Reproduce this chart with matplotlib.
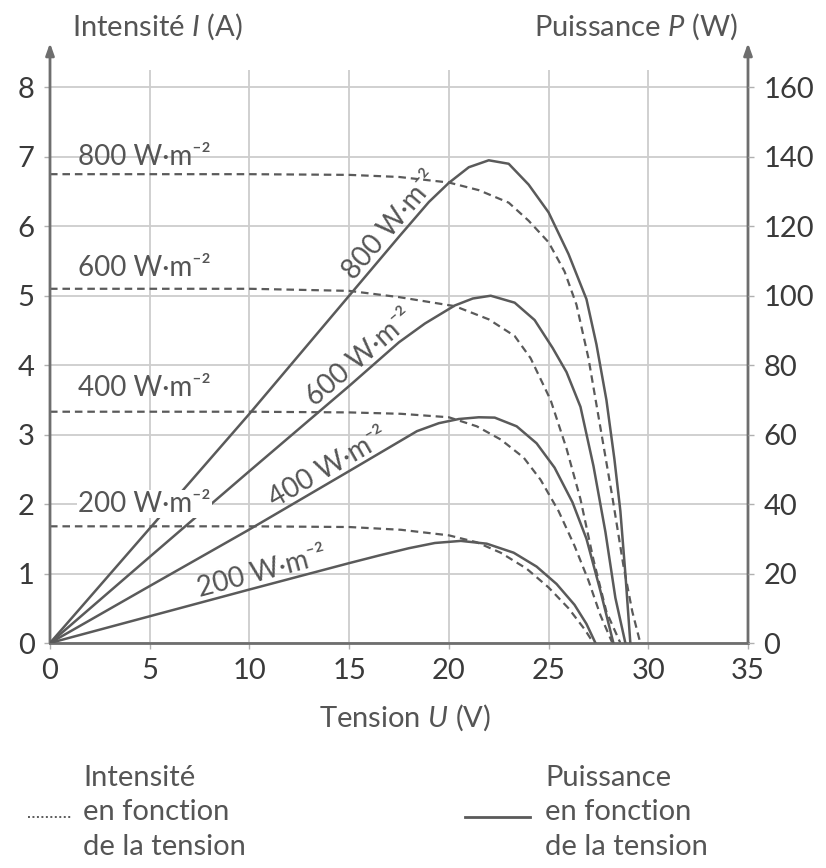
import numpy as np
import matplotlib
matplotlib.use("Agg")
import matplotlib.pyplot as plt
from matplotlib.lines import Line2D

plt.rcParams['font.family'] = ['Lato', 'DejaVu Sans']
plt.rcParams['mathtext.fontset'] = 'custom'
plt.rcParams['mathtext.rm'] = 'Lato'
plt.rcParams['mathtext.it'] = 'Lato:italic'

# éclairements (W/m2)
irradiances = [800, 600, 400, 200]

# intensité I (A) en fonction de la tension U (V) -- pointillés
U_I800 = [0, 5, 10, 15, 17.5, 20, 21.5, 23, 24, 25, 25.8, 26.4, 27, 27.6, 28.2, 28.75, 29.2, 29.6]
I800 = [6.75, 6.75, 6.75, 6.74, 6.71, 6.63, 6.52, 6.34, 6.08, 5.77, 5.35, 4.87, 4.1, 3.1, 2.1, 1.12, 0.45, 0]
U_I600 = [0, 5, 10, 15, 17.5, 20.3, 22, 23.3, 24.1, 25.1, 25.9, 26.6, 27.25, 27.9, 28.6]
I600 = [5.1, 5.1, 5.1, 5.07, 4.98, 4.85, 4.66, 4.42, 4.1, 3.5, 2.8, 2.07, 1.2, 0.45, 0]
U_I400 = [0, 5, 10, 15, 17.6, 20, 21.4, 22.6, 23.75, 24.6, 25.5, 26.3, 27.0, 27.6, 28.2]
I400 = [3.33, 3.33, 3.33, 3.32, 3.3, 3.25, 3.12, 2.93, 2.67, 2.35, 1.9, 1.4, 0.9, 0.4, 0]
U_I200 = [0, 5, 10, 15, 17.6, 20, 21.4, 22.6, 23.9, 25, 26, 26.8, 27.25]
I200 = [1.68, 1.68, 1.68, 1.67, 1.63, 1.55, 1.45, 1.3, 1.07, 0.8, 0.5, 0.2, 0]

# puissance P (W) en fonction de la tension U (V) -- traits pleins
U_P800 = [0, 5, 10, 15, 17.5, 19, 20, 21, 22, 23, 24, 25, 26, 26.9, 27.4, 27.9, 28.3, 28.6, 28.85, 29.1]
P800 = [0, 33, 66, 100, 117, 127, 132.5, 137, 139, 138, 132, 124, 112, 99, 86, 70, 53, 38, 20, 0]
U_P600 = [0, 5, 10, 15, 17.5, 18.8, 20.3, 21.2, 22.1, 23.3, 24.3, 25.2, 25.9, 26.6, 27.25, 27.85, 28.35, 28.85]
P600 = [0, 24.8, 49.5, 74, 86.6, 92, 97.2, 99.2, 100, 98, 93, 85, 78, 68, 51, 32, 13, 0]
U_P400 = [0, 5, 10, 15, 18.4, 19.5, 20.5, 21.5, 22.3, 23.4, 24.4, 25.3, 26.2, 26.9, 27.6, 28.25]
P400 = [0, 16.4, 32.7, 49.5, 61, 63.3, 64.5, 65, 64.9, 62.4, 57.5, 50.5, 40.5, 30, 15, 0]
U_P200 = [0, 5, 10, 15, 16.5, 18, 19.3, 20.6, 21.9, 23.25, 24.4, 25.4, 26.3, 26.9, 27.35]
P200 = [0, 7.7, 15.4, 23, 25.2, 27.3, 28.8, 29.4, 28.6, 26, 22, 17, 11, 5.5, 0]

U_I = [U_I800, U_I600, U_I400, U_I200]
I_all = [I800, I600, I400, I200]
U_P = [U_P800, U_P600, U_P400, U_P200]
P_all = [P800, P600, P400, P200]

# étiquettes
left_label_y = [7.0, 5.4, 3.67, 2.0]
curve_label_u = [17.6, 16.0, 14.3, 10.8]

line_col = '#5a5a5a'
text_col = '#555555'
axis_col = '#6e6e6e'
grid_col = '#cdcdcd'

fig = plt.figure(figsize=(8.26, 8.68), dpi=100)
ax = fig.add_axes([50/826, 1-643/868, 698/826, 573/868])
ax2 = ax.twinx()

ax.set_xlim(0, 35)
ax.set_ylim(0, 8.25)
ax2.set_ylim(0, 165)
ax.set_xticks(range(0, 36, 5))
ax.set_yticks(range(0, 9))
ax2.set_yticks(range(0, 161, 20))

ax.grid(True, color=grid_col, lw=1.3)
ax.set_axisbelow(True)

for a in (ax, ax2):
    for s in ('top', 'left', 'right'):
        a.spines[s].set_visible(False)
    a.tick_params(length=4, width=1, color='#b0b0b0', labelsize=21,
                  labelcolor='#3a3a3a', pad=7)
ax2.spines['bottom'].set_visible(False)
ax.spines['bottom'].set_color(axis_col)
ax.spines['bottom'].set_linewidth(2)

# axes verticaux fléchés
for xa in (0, 1):
    ax.annotate('', xy=(xa, 1.047), xytext=(xa, 0), xycoords='axes fraction',
                arrowprops=dict(arrowstyle='-|>,head_length=0.7,head_width=0.25',
                                color=axis_col, lw=2, shrinkA=0, shrinkB=0),
                annotation_clip=False)

for u, i in zip(U_I, I_all):
    ax.plot(u, i, color=line_col, lw=1.6, ls=(0, (3.4, 2.2)))
for u, p in zip(U_P, P_all):
    ax2.plot(u, p, color=line_col, lw=1.8)

# étiquettes à gauche
for irr, y in zip(irradiances, left_label_y):
    kw = {}
    if irr == 200:
        kw['bbox'] = dict(facecolor='white', edgecolor='none', pad=1)
    ax2.text(1.4, y*20, f"{irr} W·m⁻²", ha='left', va='center',
             fontsize=20, color=text_col, zorder=5, **kw)

# étiquettes le long des courbes de puissance
fig.canvas.draw()
for irr, u, p, u0 in zip(irradiances, U_P, P_all, curve_label_u):
    p0 = np.interp(u0, u, p)
    a = ax2.transData.transform((u[1], p[1]))
    b = ax2.transData.transform((u[3], p[3]))
    ang = np.degrees(np.arctan2(b[1]-a[1], b[0]-a[0]))
    d = 4
    ax2.annotate(f"{irr} W·m⁻²", xy=(u0, p0),
                 xytext=(-d*np.sin(np.radians(ang)), d*np.cos(np.radians(ang))),
                 textcoords='offset points', rotation=ang, rotation_mode='anchor',
                 ha='center', va='baseline', fontsize=20, color=text_col)

# titres des axes
fig.text(72/826, 1-27/868, r"Intensité $I$ (A)", ha='left', va='center',
         fontsize=21, color=text_col)
fig.text(738/826, 1-27/868, r"Puissance $P$ (W)", ha='right', va='center',
         fontsize=21, color=text_col)
fig.text(405/826, 1-718/868, r"Tension $U$ (V)", ha='center', va='center',
         fontsize=21, color=text_col)

# légende
fig.add_artist(Line2D([28/826, 72/826], [1-817/868]*2, ls=(0, (1, 1.3)), lw=1.4,
                      color=line_col))
fig.add_artist(Line2D([465/826, 530/826], [1-817/868]*2, lw=2, color=line_col))
for x0, words in ((83, ("Intensité", "en fonction", "de la tension")),
                  (545, ("Puissance", "en fonction", "de la tension"))):
    for yy, w in zip((778, 812, 847), words):
        fig.text(x0/826, 1-yy/868, w, ha='left', va='center', fontsize=21,
                 color=text_col)

fig.savefig("out.png", dpi=100, facecolor='white')
